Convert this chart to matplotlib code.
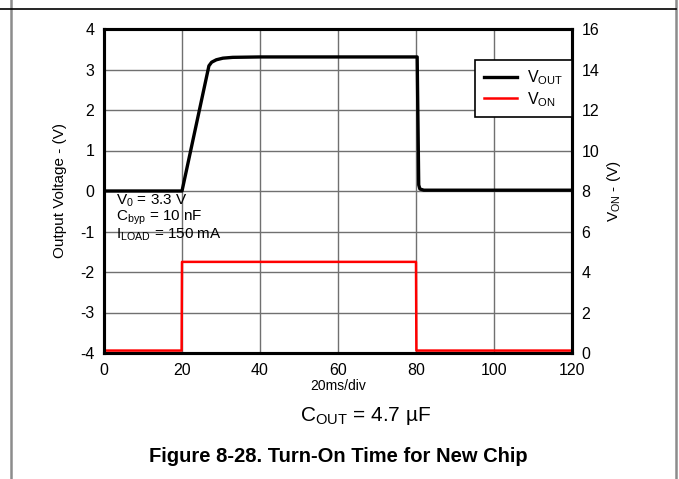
import matplotlib
matplotlib.use("Agg")
import matplotlib.pyplot as plt
from matplotlib.lines import Line2D

plt.rcParams['font.family'] = ['Liberation Sans', 'DejaVu Sans']
plt.rcParams['mathtext.fontset'] = 'custom'
plt.rcParams['mathtext.rm'] = 'Liberation Sans'
plt.rcParams['mathtext.it'] = 'Liberation Sans'
plt.rcParams['axes.unicode_minus'] = False

# Data (time in ms)
vout_t = [0, 20, 26.9, 27.6, 28.8, 30.5, 33, 40, 80.3, 80.7, 81.0, 82.0, 84, 120]
vout_v = [0, 0, 3.09, 3.18, 3.24, 3.28, 3.30, 3.31, 3.31, 0.15, 0.05, 0.02, 0.02, 0.02]
von_t = [0, 10, 19.9, 20.0, 80.0, 80.1, 100, 120]
von_v = [0.12, 0.12, 0.12, 4.5, 4.5, 0.12, 0.12, 0.12]

xticks = [0, 20, 40, 60, 80, 100, 120]
yticks_left = [-4, -3, -2, -1, 0, 1, 2, 3, 4]
yticks_right = [0, 2, 4, 6, 8, 10, 12, 14, 16]

fig = plt.figure(figsize=(6.79, 4.79), dpi=100)
ax = fig.add_axes([104/679, 1-353/479, 468/679, 324/479])
ax2 = ax.twinx()

ax.set_xlim(0, 120)
ax.set_ylim(-4, 4)
ax2.set_ylim(0, 16)
ax.set_xticks(xticks)
ax.set_yticks(yticks_left)
ax2.set_yticks(yticks_right)
ax.grid(True, color='#707070', linewidth=1.0)
ax.set_axisbelow(True)

l1, = ax.plot(vout_t, vout_v, color='black', linewidth=2.4, solid_joinstyle='round')
l2, = ax2.plot(von_t, von_v, color='#ff0000', linewidth=1.8)

for a in (ax, ax2):
    for s in a.spines.values():
        s.set_linewidth(2.2)
        s.set_color('black')
    a.tick_params(length=0, labelsize=11.5, pad=7)

ax.set_ylabel('Output Voltage - (V)', fontsize=11, labelpad=9)
ax2.set_ylabel(r'V$_{\mathrm{ON}}$ - (V)', fontsize=11, labelpad=4)
ax.set_xlabel('20ms/div', fontsize=10, labelpad=1)

ax.text(3.0, -0.25, r'V$_0$ = 3.3 V', fontsize=11, va='center', ha='left')
ax.text(3.0, -0.67, r'C$_{\mathrm{byp}}$ = 10 nF', fontsize=11, va='center', ha='left')
ax.text(3.0, -1.09, r'I$_{\mathrm{LOAD}}$ = 150 mA', fontsize=11, va='center', ha='left')

leg = ax2.legend([l1, l2], [r'V$_{\mathrm{OUT}}$', r'V$_{\mathrm{ON}}$'],
                 loc='upper right', bbox_to_anchor=(1.0, (353-60)/324),
                 fontsize=11.5, fancybox=False, framealpha=1, edgecolor='black',
                 borderaxespad=0, handlelength=2.1, labelspacing=0.15,
                 borderpad=0.55, handletextpad=0.6)
leg.get_frame().set_linewidth(1.2)

fig.text(366 / 679, 1 - 416/479, r'C$_{\mathrm{OUT}}$ = 4.7 µF',
         fontsize=15, ha='center', va='center')
fig.text(338 / 679, 1 - 456/479, 'Figure 8-28. Turn-On Time for New Chip',
         fontsize=14.5, fontweight='bold', ha='center', va='center')

# frame lines
fig.add_artist(Line2D([11/679, 11/679], [0, 1], color='#8c8c8c', linewidth=1.8))
fig.add_artist(Line2D([676/679, 676/679], [0, 1], color='#8c8c8c', linewidth=1.8))
fig.add_artist(Line2D([0, 676/679], [1-9/479, 1-9/479], color='black', linewidth=1.2))

fig.savefig('out.png', dpi=100)
